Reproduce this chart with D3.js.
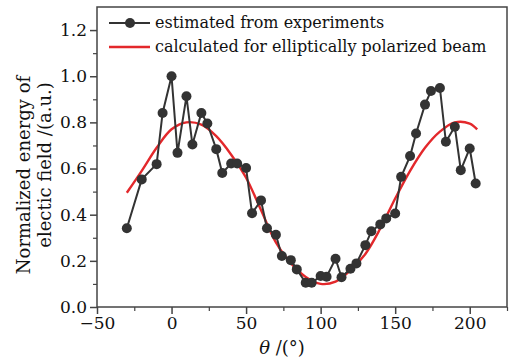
<!DOCTYPE html>
<html>
<head>
<meta charset="utf-8">
<script src="https://cdn.jsdelivr.net/npm/d3@7"></script>
<style>
  body { margin: 0; background: #fff; }
  text { font-family: "DejaVu Serif", serif; fill: #111; }
</style>
</head>
<body>
<div id="chart"></div>
<script>
// experimental points
const theta = [-30, -20, -10, -6, 0, 4, 10, 14, 20, 24, 30, 34, 40, 44, 50, 54, 60, 64, 70, 74,
  80, 84, 90, 94, 100, 104, 110, 114, 120, 124, 130, 134, 140, 144, 150, 154, 160, 164, 170, 174,
  180, 184, 190, 194, 200, 204];
const measured = [0.341, 0.553, 0.619, 0.841, 1.0, 0.668, 0.913, 0.704, 0.841, 0.795, 0.684, 0.581,
  0.622, 0.622, 0.602, 0.406, 0.462, 0.341, 0.313, 0.221, 0.203, 0.163, 0.105, 0.105, 0.134, 0.131,
  0.209, 0.129, 0.166, 0.189, 0.268, 0.328, 0.358, 0.384, 0.405, 0.564, 0.654, 0.752, 0.877, 0.936,
  0.949, 0.716, 0.781, 0.593, 0.687, 0.535];

// calculated curve
const thetaCalc = [-30, -20, -10, 0, 10, 20, 30, 40, 50, 60, 70, 80, 90, 100, 110, 120, 130, 140,
  150, 160, 170, 180, 190, 200, 205];
const calculated = [0.495, 0.59, 0.69, 0.77, 0.80, 0.79, 0.74, 0.66, 0.56, 0.42, 0.28, 0.19, 0.13,
  0.10, 0.11, 0.16, 0.23, 0.34, 0.47, 0.59, 0.69, 0.76, 0.80, 0.795, 0.77];

const xTicks = [-50, 0, 50, 100, 150, 200];
const yTicks = [0, 0.2, 0.4, 0.6, 0.8, 1.0, 1.2];
const legendLabels = ["estimated from experiments", "calculated for elliptically polarized beam"];

const fullWidth = 520, fullHeight = 362;
const margin = { top: 7, right: 13, bottom: 55, left: 97 },
  width = fullWidth - margin.left - margin.right,
  height = fullHeight - margin.top - margin.bottom;

const axisColor = "#444";

const svg = d3.select("#chart")
  .append("svg")
  .attr("width", fullWidth)
  .attr("height", fullHeight);

const g = svg.append("g")
  .attr("transform", `translate(${margin.left},${margin.top})`);

const x = d3.scaleLinear().domain([-50, 225]).range([0, width]);
const y = d3.scaleLinear().domain([0, 1.3]).range([height, 0]);

// frame
g.append("rect")
  .attr("width", width)
  .attr("height", height)
  .attr("fill", "none")
  .attr("stroke", axisColor)
  .attr("stroke-width", 1.5);

// minor ticks
g.append("g")
  .attr("transform", `translate(0,${height})`)
  .call(d3.axisBottom(x).tickValues(d3.range(-25, 226, 50)).tickSize(4).tickFormat(""))
  .call(a => a.select(".domain").remove())
  .selectAll("line").attr("stroke", axisColor).attr("stroke-width", 1.2);

g.append("g")
  .call(d3.axisLeft(y).tickValues(d3.range(0.1, 1.3, 0.2)).tickSize(4).tickFormat(""))
  .call(a => a.select(".domain").remove())
  .selectAll("line").attr("stroke", axisColor).attr("stroke-width", 1.2);

// major ticks
const xAxis = g.append("g")
  .attr("transform", `translate(0,${height})`)
  .call(d3.axisBottom(x).tickValues(xTicks).tickSize(7).tickPadding(3)
    .tickFormat(d => d < 0 ? "\u2212" + Math.abs(d) : d));
xAxis.select(".domain").remove();
xAxis.selectAll("line").attr("stroke", axisColor).attr("stroke-width", 1.5);
xAxis.selectAll("text").style("font-size", "17px").style("font-family", "DejaVu Serif");

const yAxis = g.append("g")
  .call(d3.axisLeft(y).tickValues(yTicks).tickSize(7).tickPadding(3).tickFormat(d3.format(".1f")));
yAxis.select(".domain").remove();
yAxis.selectAll("line").attr("stroke", axisColor).attr("stroke-width", 1.5);
yAxis.selectAll("text").style("font-size", "17px").style("font-family", "DejaVu Serif");

// axis titles
const xLabel = g.append("text")
  .attr("text-anchor", "middle")
  .attr("x", width / 2 - 20)
  .attr("y", height + 47)
  .style("font-size", "18px");
xLabel.append("tspan").style("font-style", "italic").text("\u03b8");
xLabel.append("tspan").text(" /(\u00b0)");

const yLabel = g.append("text")
  .attr("text-anchor", "middle")
  .attr("transform", "rotate(-90)")
  .style("font-size", "18px");
yLabel.append("tspan").attr("y", -margin.left + 30).attr("x", -height / 2 - 18).text("Normalized energy of");
yLabel.append("tspan").attr("y", -margin.left + 51).attr("x", -height / 2 - 8).text("electic field /(a.u.)");

// calculated curve
const calcData = thetaCalc.map((t, i) => ({ t, v: calculated[i] }));
g.append("path")
  .datum(calcData)
  .attr("fill", "none")
  .attr("stroke", "#e3282b")
  .attr("stroke-width", 2.4)
  .attr("d", d3.line().x(d => x(d.t)).y(d => y(d.v)).curve(d3.curveCatmullRom));

// measured series
const measData = theta.map((t, i) => ({ t, v: measured[i] }));
g.append("path")
  .datum(measData)
  .attr("fill", "none")
  .attr("stroke", "#333")
  .attr("stroke-width", 2)
  .attr("d", d3.line().x(d => x(d.t)).y(d => y(d.v)));

g.selectAll("circle.pt")
  .data(measData)
  .enter()
  .append("circle")
  .attr("class", "pt")
  .attr("cx", d => x(d.t))
  .attr("cy", d => y(d.v))
  .attr("r", 5)
  .attr("fill", "#333");

// legend
const legend = g.append("g").attr("transform", "translate(12,16)");
legendLabels.forEach((label, i) => {
  const row = legend.append("g").attr("transform", `translate(0,${i * 24})`);
  row.append("line")
    .attr("x1", 0).attr("x2", 41)
    .attr("stroke", i === 0 ? "#333" : "#e3282b")
    .attr("stroke-width", i === 0 ? 2 : 2.4);
  if (i === 0) row.append("circle").attr("cx", 21).attr("r", 5).attr("fill", "#333");
  row.append("text")
    .attr("x", 46)
    .attr("dy", "0.32em")
    .style("font-size", "16px")
    .text(label);
});
</script>
</body>
</html>
